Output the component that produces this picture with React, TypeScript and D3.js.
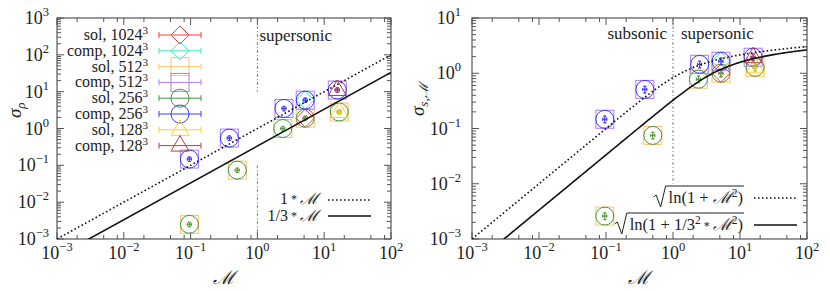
import React, { useLayoutEffect, useRef, useState } from "react";
import * as d3 from "d3";

// runs, in gnuplot plot order
const runLabels = ["sol", "comp", "sol", "comp", "sol", "comp", "sol", "comp"];
const runResolution = [1024, 1024, 512, 512, 256, 256, 128, 128];
const runIndices = [[3], [3], [0, 1, 2, 3, 4], [0, 1, 2, 3, 4], [0, 1, 2, 3, 4], [0, 1, 2, 3, 4], [4], [4]];

// Mach numbers of the simulations
const machSol = [0.096, 0.5, 2.4, 5.2, 16.8];
const machComp = [0.096, 0.38, 2.5, 5.2, 15.7];

// density dispersion sigma_rho
const sigmaRhoSol = [0.0025, 0.074, 1.0, 1.9, 2.8];
const sigmaRhoComp = [0.148, 0.55, 3.5, 5.9, 11.1];

// log-density dispersion sigma_{s,M}
const sigmaSSol = [0.0026, 0.075, 0.78, 1.0, 1.28];
const sigmaSComp = [0.147, 0.51, 1.45, 1.65, 1.95];

const relErrSigma = 0.14;
const relErrMach = 0.07;

const xDecades = [-3, -2, -1, 0, 1, 2];
const leftYDecades = [-3, -2, -1, 0, 1, 2, 3];
const rightYDecades = [-3, -2, -1, 0, 1];
const xMinor = [2, 5, 8];
const yMinor = [2, 3, 4, 5, 6, 7, 8, 9];

const lineFactors = [1, 1 / 3];

const colors = ["#ff3b3b", "#3de8b8", "#ffc46a", "#b47cf5", "#3f9a3f", "#3a3aff", "#ffd21f", "#b84040"];
const shapes = ["diamond", "diamond", "square", "square", "circle", "circle", "triangle", "triangle"];

const FONT = "Liberation Serif";
const AXIS = "#555";
const INK = "#222";

const MCAL = "\u2133";

const txt = { fontFamily: FONT, fill: INK } as React.CSSProperties;

function Pow({ x, y, e, anchor }: { x: number; y: number; e: number; anchor: string }) {
  return (
    <text x={x} y={y} textAnchor={anchor as any} fontSize={18} style={txt}>
      10
      <tspan dy={-8} fontSize={12.5}>{e < 0 ? "\u2212" + -e : String(e)}</tspan>
    </text>
  );
}

function Star() {
  return <tspan fontSize={12} dy={-1}>{" * "}</tspan>;
}

function Marker({ shape, cx, cy, color }: { shape: string; cx: number; cy: number; color: string }) {
  const r = 9;
  const common = { fill: "none", stroke: color, strokeWidth: 1 };
  if (shape === "circle") return <circle cx={cx} cy={cy} r={r} {...common} />;
  if (shape === "square") return <rect x={cx - r} y={cy - r} width={2 * r} height={2 * r} {...common} />;
  if (shape === "diamond")
    return <path d={`M${cx},${cy - r}L${cx + r},${cy}L${cx},${cy + r}L${cx - r},${cy}Z`} {...common} />;
  return <path d={`M${cx},${cy - 10}L${cx + 9},${cy + 5.5}L${cx - 9},${cy + 5.5}Z`} {...common} />;
}

function Frame({
  x,
  y,
  yDecades,
  yLabelEnd,
}: {
  x: d3.ScaleLogarithmic<number, number>;
  y: d3.ScaleLogarithmic<number, number>;
  yDecades: number[];
  yLabelEnd: number;
}) {
  const [x0, x1] = x.range();
  const [y0, y1] = y.range();
  const ticks: JSX.Element[] = [];
  const major = 7;
  const minor = 4;
  xDecades.forEach((k, i) => {
    const px = x(Math.pow(10, k));
    ticks.push(<line key={`xm${k}`} x1={px} x2={px} y1={y0} y2={y0 - major} />);
    ticks.push(<line key={`xM${k}`} x1={px} x2={px} y1={y1} y2={y1 + major} />);
    if (i < xDecades.length - 1)
      xMinor.forEach((m) => {
        const p = x(m * Math.pow(10, k));
        ticks.push(<line key={`xn${k}${m}`} x1={p} x2={p} y1={y0} y2={y0 - minor} />);
        ticks.push(<line key={`xN${k}${m}`} x1={p} x2={p} y1={y1} y2={y1 + minor} />);
      });
  });
  yDecades.forEach((k, i) => {
    const py = y(Math.pow(10, k));
    ticks.push(<line key={`ym${k}`} x1={x0} x2={x0 + major} y1={py} y2={py} />);
    ticks.push(<line key={`yM${k}`} x1={x1} x2={x1 - major} y1={py} y2={py} />);
    if (i < yDecades.length - 1)
      yMinor.forEach((m) => {
        const p = y(m * Math.pow(10, k));
        ticks.push(<line key={`yn${k}${m}`} x1={x0} x2={x0 + minor} y1={p} y2={p} />);
        ticks.push(<line key={`yN${k}${m}`} x1={x1} x2={x1 - minor} y1={p} y2={p} />);
      });
  });
  return (
    <g>
      <g stroke={AXIS} strokeWidth={1}>{ticks}</g>
      <rect x={x0} y={y1} width={x1 - x0} height={y0 - y1} fill="none" stroke={AXIS} strokeWidth={1.2} />
      {xDecades.map((k) => (
        <Pow key={`lx${k}`} x={x(Math.pow(10, k))} y={y0 + 20} e={k} anchor="middle" />
      ))}
      {yDecades.map((k) => (
        <Pow key={`ly${k}`} x={yLabelEnd} y={y(Math.pow(10, k)) + 6} e={k} anchor="end" />
      ))}
    </g>
  );
}

function Points({
  x,
  y,
  solY,
  compY,
}: {
  x: d3.ScaleLogarithmic<number, number>;
  y: d3.ScaleLogarithmic<number, number>;
  solY: number[];
  compY: number[];
}) {
  return (
    <g>
      {runLabels.map((lab, s) => {
        const mach = lab === "sol" ? machSol : machComp;
        const sig = lab === "sol" ? solY : compY;
        return (
          <g key={s}>
            {runIndices[s].map((i) => {
              const cx = x(mach[i]);
              const cy = y(sig[i]);
              const ya = y(sig[i] * (1 + relErrSigma));
              const yb = y(sig[i] * (1 - relErrSigma));
              const xa = x(mach[i] * (1 - relErrMach));
              const xb = x(mach[i] * (1 + relErrMach));
              return (
                <g key={i}>
                  <Marker shape={shapes[s]} cx={cx} cy={cy} color={colors[s]} />
                  <g stroke={colors[s]} strokeWidth={1}>
                    <line x1={cx} x2={cx} y1={ya} y2={yb} />
                    <line x1={cx - 1.5} x2={cx + 1.5} y1={ya} y2={ya} />
                    <line x1={cx - 1.5} x2={cx + 1.5} y1={yb} y2={yb} />
                    <line x1={xa} x2={xb} y1={cy} y2={cy} />
                    <line x1={xa} x2={xa} y1={cy - 1.5} y2={cy + 1.5} />
                    <line x1={xb} x2={xb} y1={cy - 1.5} y2={cy + 1.5} />
                  </g>
                </g>
              );
            })}
          </g>
        );
      })}
    </g>
  );
}

// text under a drawn radical sign, right-aligned at xEnd
function Sqrt({ xEnd, y, children }: { xEnd: number; y: number; children: React.ReactNode }) {
  const ref = useRef<SVGTextElement>(null);
  const [w, setW] = useState(120);
  useLayoutEffect(() => {
    if (ref.current) setW(ref.current.getBBox().width);
  }, []);
  const x0 = xEnd - w - 2;
  const top = y - 17;
  return (
    <g>
      <text ref={ref} x={xEnd} y={y} textAnchor="end" fontSize={16.5} style={txt}>
        {children}
      </text>
      <path
        d={`M${x0 - 13},${y - 6}L${x0 - 10.5},${y - 8}L${x0 - 6},${y + 4}L${x0 - 1},${top}L${xEnd + 1},${top}`}
        fill="none"
        stroke={INK}
        strokeWidth={1}
      />
    </g>
  );
}

export default function App() {
  const top = 18;
  const bottom = 239;

  const xL = d3.scaleLog().domain([1e-3, 1e2]).range([57, 391]);
  const yL = d3.scaleLog().domain([1e-3, 1e3]).range([bottom, top]);
  const xR = d3.scaleLog().domain([1e-3, 1e2]).range([472, 807]);
  const yR = d3.scaleLog().domain([1e-3, 1e1]).range([bottom, top]);

  const lineL = (c: number) =>
    d3
      .line<number>()
      .x((m) => xL(m))
      .y((m) => yL(c * m))(xL.domain());

  const machGrid = d3.range(-3, 2.001, 0.02).map((t) => Math.pow(10, t));
  const lineR = (c: number) =>
    d3
      .line<number>()
      .x((m) => xR(m))
      .y((m) => yR(Math.sqrt(Math.log(1 + c * c * m * m))))(machGrid);

  const dotted = { stroke: "#111", strokeWidth: 1.6, strokeDasharray: "1.6,2.4", fill: "none" };
  const solid = { stroke: "#111", strokeWidth: 1.6, fill: "none" };
  const dashDot = { stroke: "#666", strokeWidth: 0.8, strokeDasharray: "3,2,1,2" };

  const legTop = 35;
  const legStep = 15.8;

  return (
    <svg width={830} height={291} style={{ position: "absolute", left: 0, top: 0, background: "#fff", fontFamily: FONT }}>
      <defs>
        <clipPath id="clipL">
          <rect x={57} y={top} width={391 - 57} height={bottom - top} />
        </clipPath>
        <clipPath id="clipR">
          <rect x={472} y={top} width={807 - 472} height={bottom - top} />
        </clipPath>
      </defs>

      {/* left panel */}
      <Frame x={xL} y={yL} yDecades={leftYDecades} yLabelEnd={49} />
      <line x1={xL(1)} x2={xL(1)} y1={yL(1e3)} y2={yL(1e1)} {...dashDot} />
      <line x1={xL(1)} x2={xL(1)} y1={yL(1e-1)} y2={yL(1e-3)} {...dashDot} />
      <text x={xL(1) + 2} y={41} fontSize={17} style={txt}>supersonic</text>
      <Points x={xL} y={yL} solY={sigmaRhoSol} compY={sigmaRhoComp} />
      <g clipPath="url(#clipL)">
        <path d={lineL(lineFactors[0]) || ""} {...dotted} />
        <path d={lineL(lineFactors[1]) || ""} {...solid} />
      </g>

      {runLabels.map((lab, s) => {
        const ly = legTop + s * legStep;
        return (
          <g key={s}>
            <text x={148} y={ly + 5} textAnchor="end" fontSize={16} style={txt}>
              {lab}, {runResolution[s]}
              <tspan dy={-6} fontSize={11}>3</tspan>
            </text>
            <g stroke={colors[s]} strokeWidth={1}>
              <line x1={159} x2={201} y1={ly} y2={ly} />
              <line x1={159} x2={159} y1={ly - 3} y2={ly + 3} />
              <line x1={201} x2={201} y1={ly - 3} y2={ly + 3} />
            </g>
            <Marker shape={shapes[s]} cx={180} cy={ly} color={colors[s]} />
          </g>
        );
      })}

      <text x={318} y={204} textAnchor="end" fontSize={16} style={txt}>
        1<Star />
        <tspan dy={1} fontStyle="italic">{MCAL}</tspan>
      </text>
      <line x1={328} x2={371} y1={200} y2={200} {...dotted} />
      <text x={318} y={221} textAnchor="end" fontSize={16} style={txt}>
        1/3<Star />
        <tspan dy={1} fontStyle="italic">{MCAL}</tspan>
      </text>
      <line x1={328} x2={371} y1={216} y2={216} {...solid} />

      <text x={224} y={284} textAnchor="middle" fontSize={19} fontStyle="italic" style={txt}>{MCAL}</text>
      <text transform="translate(21,118) rotate(-90)" fontSize={19} style={txt}>
        <tspan fontStyle="italic">σ</tspan>
        <tspan dy={4} fontSize={13} fontStyle="italic">ρ</tspan>
      </text>

      {/* right panel */}
      <Frame x={xR} y={yR} yDecades={rightYDecades} yLabelEnd={461} />
      <line x1={xR(1)} x2={xR(1)} y1={yR(1e1)} y2={yR(1e-2)} {...dashDot} />
      <text x={xR(1) - 6} y={39} textAnchor="end" fontSize={17} style={txt}>subsonic</text>
      <text x={xR(1) + 8} y={39} fontSize={17} style={txt}>supersonic</text>
      <Points x={xR} y={yR} solY={sigmaSSol} compY={sigmaSComp} />
      <g clipPath="url(#clipR)">
        <path d={lineR(lineFactors[0]) || ""} {...dotted} />
        <path d={lineR(lineFactors[1]) || ""} {...solid} />
      </g>

      <Sqrt xEnd={743} y={203}>
        ln(1 + <tspan fontStyle="italic">{MCAL}</tspan>
        <tspan dy={-6} fontSize={11.5}>2</tspan>
        <tspan dy={6}>)</tspan>
      </Sqrt>
      <line x1={754} x2={797} y1={198} y2={198} {...dotted} />
      <Sqrt xEnd={743} y={230}>
        ln(1 + 1/3
        <tspan dy={-6} fontSize={11.5}>2</tspan>
        <tspan dy={6} fontSize={12}>{" * "}</tspan>
        <tspan fontStyle="italic">{MCAL}</tspan>
        <tspan dy={-6} fontSize={11.5}>2</tspan>
        <tspan dy={6}>)</tspan>
      </Sqrt>
      <line x1={754} x2={797} y1={225} y2={225} {...solid} />

      <text x={639} y={284} textAnchor="middle" fontSize={19} fontStyle="italic" style={txt}>{MCAL}</text>
      <text transform="translate(424,116) rotate(-90)" fontSize={19} style={txt}>
        <tspan fontStyle="italic">σ</tspan>
        <tspan dy={4} fontSize={13} fontStyle="italic">s,{MCAL}</tspan>
      </text>
    </svg>
  );
}
